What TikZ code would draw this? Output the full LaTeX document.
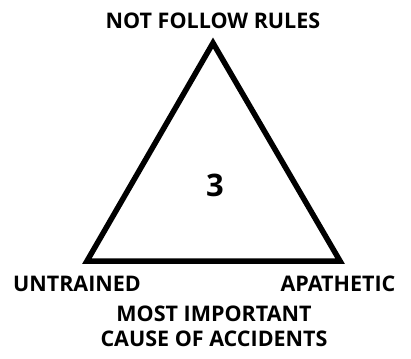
\documentclass[tikz,border=0pt]{standalone}
\usepackage{fontspec}
\setmainfont{Open Sans}
\begin{document}
\begin{tikzpicture}[x=1pt,y=-1pt,
  lbl/.style={font=\fontsize{21.5}{25}\selectfont\bfseries, inner sep=0pt, align=center}]
\useasboundingbox (0,0) rectangle (411,358);
\coordinate (A) at (213,43);
\coordinate (B) at (87,261);
\coordinate (C) at (340,261);
\draw[line width=5.5pt, line join=miter] (A) -- (B) -- (C) -- cycle;
\node[lbl] (top) at (213,21) {NOT FOLLOW RULES};
\node[lbl] (left) at (77,284) {UNTRAINED};
\node[lbl] (right) at (338,284) {APATHETIC};
\node[lbl] (num) at (215,185) {\fontsize{31}{33}\selectfont 3};
\node[lbl] (bot) at (214,326) {MOST IMPORTANT\\CAUSE OF ACCIDENTS};
\end{tikzpicture}
\end{document}
